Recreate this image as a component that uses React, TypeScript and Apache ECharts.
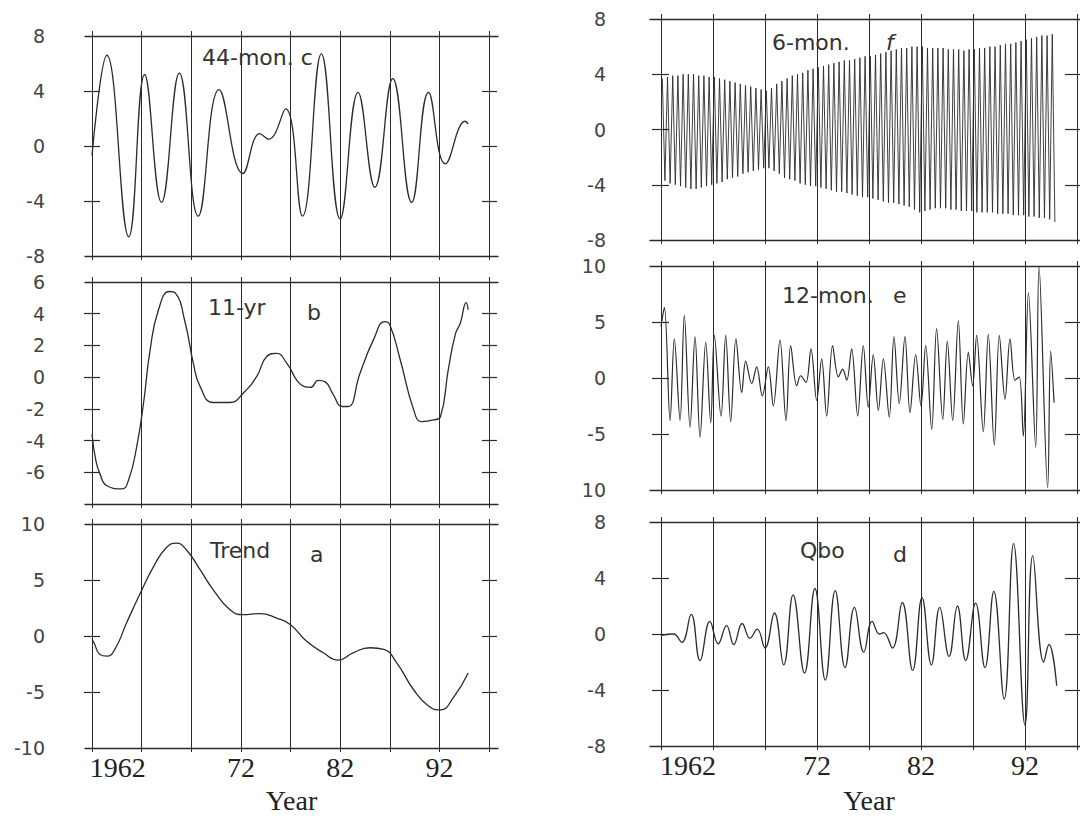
import React, { useEffect, useRef } from 'react';
import * as echarts from 'echarts';

// ---- axes ----
const gridYears = [1957, 1962, 1967, 1972, 1977, 1982, 1987, 1992, 1997];
const xLabelPositions = [1959.6, 1972, 1982, 1992];
const xLabelTexts = ['1962', '72', '82', '92'];

// ---- a: Trend ----
const trendPts: [number, number][] = [
  [1957.0, -0.3], [1957.2, -0.6], [1957.8, -1.65], [1958.5, -1.8], [1959.3, -1.2], [1960.5, 1.2],
  [1961.8, 3.7], [1963.2, 6.2], [1964.5, 7.9], [1965.5, 8.3], [1966.5, 7.7], [1967.9, 5.9],
  [1969.2, 4.15], [1970.9, 2.35], [1972.25, 1.9], [1973.9, 2.0], [1975.6, 1.6], [1977.0, 1.0],
  [1978.6, -0.45], [1980.3, -1.5], [1981.8, -2.15], [1983.3, -1.5], [1985.0, -1.05], [1986.4, -1.2],
  [1987.7, -2.4], [1989.4, -4.8], [1990.9, -6.25], [1992.1, -6.6], [1993.4, -5.5], [1994.9, -3.3],
];

// ---- b: 11-yr ----
const elevenYrPts: [number, number][] = [
  [1957.0, -3.6], [1957.4, -5.3], [1957.8, -6.1], [1958.5, -6.85], [1960.0, -7.05], [1960.7, -6.45],
  [1961.5, -4.4], [1962.2, -1.6], [1962.85, 1.7], [1963.7, 4.25], [1964.8, 5.4], [1965.4, 5.3],
  [1966.4, 3.4], [1967.2, 0.9], [1967.9, -0.6], [1969.2, -1.6], [1970.9, -1.6], [1972.25, -1.0],
  [1973.6, 0.05], [1974.6, 1.3], [1975.6, 1.5], [1976.6, 0.9], [1978.1, -0.5], [1979.0, -0.65],
  [1979.8, -0.2], [1980.5, -0.3], [1981.3, -1.1], [1982.2, -1.85], [1982.8, -1.85], [1984.0, 0.25],
  [1985.35, 2.35], [1986.5, 3.5], [1987.0, 3.3], [1988.05, 1.1], [1989.4, -2.05], [1990.2, -2.8],
  [1991.4, -2.7], [1992.1, -2.5], [1992.9, 0.5], [1993.6, 2.7], [1994.1, 3.4], [1994.7, 4.7], [1994.9, 4.25],
];

// ---- c: 44-mon ----
const fortyFourMonPts: [number, number][] = [
  [1957.0, -0.7], [1958.5, 6.6], [1960.7, -6.6], [1962.3, 5.2], [1964.0, -4.1], [1965.8, 5.3],
  [1967.7, -5.1], [1969.8, 4.1], [1972.2, -2.0], [1973.9, 0.9], [1974.8, 0.5], [1976.5, 2.7],
  [1978.2, -5.1], [1980.1, 6.7], [1982.0, -5.3], [1983.8, 3.9], [1985.5, -3.0], [1987.3, 4.9],
  [1989.2, -4.1], [1990.9, 3.9], [1992.6, -1.3], [1994.6, 1.8], [1994.9, 1.6],
];

// ---- d: Qbo ----
const qboPts: [number, number][] = [
  [1957.0, -0.1], [1958.2, 0.0], [1959.0, -0.6], [1959.9, 1.4], [1960.75, -1.9], [1961.7, 0.9],
  [1962.5, -0.7], [1963.3, 0.6], [1964.0, -0.75], [1964.8, 0.75], [1965.55, -0.3], [1966.25, 0.35],
  [1967.0, -1.0], [1967.9, 1.5], [1968.8, -2.2], [1969.7, 2.8], [1970.8, -2.8], [1971.8, 3.25],
  [1972.8, -3.3], [1973.75, 3.1], [1974.7, -2.4], [1975.6, 1.9], [1976.5, -1.3], [1977.3, 0.9],
  [1978.0, 0.0], [1978.4, 0.1], [1979.25, -1.0], [1980.2, 2.25], [1981.2, -2.6], [1982.1, 2.6],
  [1983.0, -2.2], [1983.8, 1.9], [1984.7, -1.6], [1985.5, 2.0], [1986.3, -1.9], [1987.25, 2.2],
  [1988.15, -2.4], [1989.0, 3.05], [1990.0, -4.65], [1990.9, 6.45], [1992.0, -6.5], [1992.75, 5.6],
  [1993.8, -2.0], [1994.3, -0.75], [1995.05, -3.7],
];

// ---- e: 12-mon ----
const twelveMonPts: [number, number][] = [
  [1957.0, 4.6], [1957.32, 6.3], [1957.87, -3.8], [1958.28, 3.5], [1958.83, -3.8], [1959.24, 5.6],
  [1959.79, -4.4], [1960.27, 3.7], [1960.75, -5.3], [1961.3, 3.2], [1961.78, -4.0], [1962.13, 3.8],
  [1962.77, -3.4], [1963.22, 3.8], [1963.7, -3.9], [1964.2, 3.5], [1964.76, -1.3], [1965.14, 1.5],
  [1965.72, -0.5], [1966.2, 1.0], [1966.74, -1.6], [1967.32, 1.0], [1967.8, -2.5], [1968.44, 3.4],
  [1969.02, -3.8], [1969.47, 2.9], [1970.05, -0.7], [1970.43, 0.2], [1970.94, -0.4], [1971.42, 2.6],
  [1971.97, -2.0], [1972.45, 1.7], [1972.93, -3.4], [1973.5, 2.9], [1974.05, 0.1], [1974.47, 0.8],
  [1974.86, -0.2], [1975.33, 2.6], [1975.91, -3.4], [1976.45, 2.9], [1976.93, -2.6], [1977.41, 2.1],
  [1977.9, -2.9], [1978.38, 1.7], [1978.95, -3.5], [1979.4, 3.7], [1979.91, -2.3], [1980.46, 3.7],
  [1980.94, -3.1], [1981.49, 2.1], [1982.0, -2.5], [1982.45, 2.9], [1983.03, -4.6], [1983.5, 4.4],
  [1984.09, -3.7], [1984.53, 3.3], [1985.05, -3.8], [1985.59, 5.1], [1986.07, -4.1], [1986.55, 2.3],
  [1986.97, -0.7], [1987.35, 3.8], [1987.99, -4.8], [1988.47, 3.9], [1989.05, -6.0], [1989.53, 3.8],
  [1990.08, -1.9], [1990.56, 3.5], [1991.04, -0.2], [1991.45, 0.1], [1991.84, -5.2], [1992.33, 7.6],
  [1993.03, -6.2], [1993.35, 10.0], [1994.18, -9.8], [1994.47, 2.4], [1994.8, -2.2],
];

// ---- f: 6-mon (one crest and one trough per half year, 1957.0 - 1994.5) ----
const sixMonStart = 1957;
const sixMonPeaks = [
  3.7, 3.8, 3.9, 3.9, 4.0, 4.0,
  4.0, 3.9, 3.9, 3.8, 3.8, 3.7,
  3.6, 3.5, 3.4, 3.3, 3.2, 3.1,
  3.0, 2.9, 2.8, 3.0, 3.3, 3.5,
  3.7, 3.9, 4.0, 4.1, 4.3, 4.4,
  4.5, 4.6, 4.7, 4.8, 4.9, 5.0,
  5.0, 5.1, 5.2, 5.3, 5.3, 5.4,
  5.5, 5.6, 5.7, 5.8, 5.9, 5.9,
  6.0, 6.0, 6.0, 5.9, 5.9, 5.9,
  5.9, 5.8, 5.8, 5.8, 5.7, 5.8,
  5.8, 5.9, 5.9, 6.0, 6.0, 6.1,
  6.2, 6.2, 6.3, 6.4, 6.5, 6.6,
  6.7, 6.8, 6.8, 6.9,
];
const sixMonTroughs = [
  -3.7, -3.9, -4.0, -4.1, -4.2, -4.3,
  -4.3, -4.2, -4.1, -4.0, -3.9, -3.8,
  -3.6, -3.5, -3.4, -3.2, -3.1, -3.0,
  -2.9, -2.8, -2.8, -3.0, -3.2, -3.5,
  -3.6, -3.7, -3.9, -4.0, -4.1, -4.1,
  -4.2, -4.3, -4.4, -4.5, -4.5, -4.6,
  -4.7, -4.8, -4.9, -4.9, -5.0, -5.1,
  -5.2, -5.3, -5.3, -5.4, -5.5, -5.6,
  -5.8, -6.0, -5.9, -5.8, -5.7, -5.7,
  -5.7, -5.8, -5.8, -5.9, -5.9, -5.9,
  -6.0, -6.0, -6.0, -6.0, -6.1, -6.1,
  -6.1, -6.2, -6.2, -6.2, -6.3, -6.3,
  -6.4, -6.4, -6.5, -6.7,
];

// ---- y ticks / labels ----
const yTicksC = [4, 0, -4];
const yLabelsC = [8, 4, 0, -4, -8];
const yTicksB = [4, 2, 0, -2, -4, -6];
const yLabelsB = [6, 4, 2, 0, -2, -4, -6];
const yTicksA = [5, 0, -5];
const yLabelsA = [10, 5, 0, -5, -10];
const yTicksF = [4, 0, -4];
const yLabelsF = [8, 4, 0, -4, -8];
const yTicksE = [5, 0, -5];
const yLabelsE = [10, 5, 0, -5, -10];
const yLabelTextsE = ['10', '5', '0', '-5', '10'];
const yTicksD = [4, 0, -4];
const yLabelsD = [8, 4, 0, -4, -8];

const INK = '#2b2b2b';

function sixMonSeries(): [number, number][] {
  const out: [number, number][] = [];
  for (let k = 0; k < sixMonPeaks.length; k++) {
    out.push([sixMonStart + 0.5 * k + 0.125, sixMonPeaks[k]]);
    out.push([sixMonStart + 0.5 * k + 0.375, sixMonTroughs[k]]);
  }
  return out;
}

type PanelCfg = {
  left: number; top: number; width: number; height: number;
  xMin: number; xMax: number;
  yMin: number; yMax: number;
  yTicks: number[]; yLabels: number[]; yLabelTexts?: string[];
  leftAxisInset: number; leftTickLen: number; labelMargin: number;
  rightAxisInset: number; rightTickLen: number;
  data: [number, number][]; smooth: number | boolean; lineWidth: number;
  showX: boolean; nameGap: number;
};

function App() {
  const ref = useRef<HTMLDivElement>(null);
  useEffect(() => {
    if (!ref.current) return;
    const chart = echarts.init(ref.current, undefined, { renderer: 'svg' });

    const L = { left: 85, width: 413, xMin: 1956.295, xMax: 1997.9, leftAxisInset: 15, leftTickLen: 16, labelMargin: 55, rightAxisInset: 16, rightTickLen: 15 };
    const R = { left: 650, width: 438, xMin: 1955.94, xMax: 1998.06, leftAxisInset: 19, leftTickLen: 17, labelMargin: 63, rightAxisInset: 23, rightTickLen: 16 };

    const panels: PanelCfg[] = [
      { ...L, top: 36, height: 220, yMin: -8, yMax: 8, yTicks: yTicksC, yLabels: yLabelsC, data: fortyFourMonPts, smooth: 0.45, lineWidth: 1.3, showX: false, nameGap: 0 },
      { ...L, top: 282, height: 222, yMin: -8, yMax: 6, yTicks: yTicksB, yLabels: yLabelsB, data: elevenYrPts, smooth: 0.5, lineWidth: 1.3, showX: false, nameGap: 0 },
      { ...L, top: 524, height: 224, yMin: -10, yMax: 10, yTicks: yTicksA, yLabels: yLabelsA, data: trendPts, smooth: 0.5, lineWidth: 1.3, showX: true, nameGap: 38 },
      { ...R, top: 19, height: 221, yMin: -8, yMax: 8, yTicks: yTicksF, yLabels: yLabelsF, data: sixMonSeries(), smooth: false, lineWidth: 0.9, showX: false, nameGap: 0 },
      { ...R, top: 266, height: 224, yMin: -10, yMax: 10, yTicks: yTicksE, yLabels: yLabelsE, yLabelTexts: yLabelTextsE, data: twelveMonPts, smooth: 0.35, lineWidth: 1.2, showX: false, nameGap: 0 },
      { ...R, top: 522, height: 224, yMin: -8, yMax: 8, yTicks: yTicksD, yLabels: yLabelsD, data: qboPts, smooth: 0.45, lineWidth: 1.3, showX: true, nameGap: 40 },
    ];

    const grids: any[] = [];
    const xAxes: any[] = [];
    const yAxes: any[] = [];
    const series: any[] = [];

    panels.forEach((p, i) => {
      grids.push({ left: p.left, top: p.top, width: p.width, height: p.height, containLabel: false, outerBoundsMode: 'none', show: false });
      const common = {
        type: 'value', gridIndex: i, min: p.xMin, max: p.xMax,
        axisLine: { show: true, onZero: false, lineStyle: { color: INK, width: 1.3 } },
        axisPointer: { show: false },
      };
      xAxes.push({
        ...common, position: 'bottom',
        axisTick: { show: true, customValues: gridYears, length: 4, lineStyle: { color: INK, width: 1 } },
        splitLine: { show: true, lineStyle: { color: INK, width: 1 } },
        axisLabel: p.showX ? {
          show: true, customValues: xLabelPositions, margin: 5,
          fontFamily: 'Liberation Serif', fontSize: 28, color: '#222',
          formatter: (v: number) => {
            const idx = xLabelPositions.findIndex((q) => Math.abs(q - v) < 0.01);
            return idx >= 0 ? xLabelTexts[idx] : '';
          },
        } : { show: false },
        name: p.showX ? 'Year' : '', nameLocation: 'middle', nameGap: p.nameGap,
        nameTextStyle: { fontFamily: 'Liberation Serif', fontSize: 28, color: '#222' },
      });
      xAxes.push({
        ...common, position: 'top',
        axisTick: { show: true, customValues: gridYears, length: 5, lineStyle: { color: INK, width: 1 } },
        splitLine: { show: false }, axisLabel: { show: false },
      });
      const labelTexts = p.yLabelTexts;
      yAxes.push({
        type: 'value', gridIndex: i, position: 'left', offset: -p.leftAxisInset,
        min: p.yMin, max: p.yMax,
        axisLine: { show: false, onZero: false },
        axisTick: { show: true, customValues: p.yTicks, length: p.leftTickLen, lineStyle: { color: INK, width: 1.2 } },
        splitLine: { show: false },
        axisLabel: {
          show: true, customValues: p.yLabels, margin: p.labelMargin,
          fontFamily: 'DejaVu Sans', fontSize: 19, color: '#444',
          formatter: (v: number) => {
            if (labelTexts) {
              const idx = p.yLabels.findIndex((q) => Math.abs(q - v) < 1e-6);
              if (idx >= 0) return labelTexts[idx];
            }
            return String(v);
          },
        },
      });
      yAxes.push({
        type: 'value', gridIndex: i, position: 'right', offset: -p.rightAxisInset,
        min: p.yMin, max: p.yMax,
        axisLine: { show: false, onZero: false },
        axisTick: { show: true, customValues: p.yTicks, length: p.rightTickLen, lineStyle: { color: INK, width: 1.2 } },
        splitLine: { show: false },
        axisLabel: { show: false },
      });
      series.push({
        type: 'line', xAxisIndex: 2 * i, yAxisIndex: 2 * i,
        data: p.data, showSymbol: false, symbol: 'none', smooth: p.smooth,
        lineStyle: { color: INK, width: p.lineWidth }, silent: true, clip: true,
      });
    });

    const titleFont = { fontFamily: 'DejaVu Sans', fontSize: 22, fill: '#333' };
    const titles = [
      { text: '44-mon. c', x: 202, y: 46 },
      { text: '11-yr', x: 208, y: 296 },
      { text: 'b', x: 307, y: 301 },
      { text: 'Trend', x: 210, y: 539 },
      { text: 'a', x: 310, y: 543 },
      { text: '6-mon.', x: 772, y: 31 },
      { text: 'f', x: 886, y: 31, italic: true },
      { text: '12-mon.', x: 782, y: 284 },
      { text: 'e', x: 893, y: 284 },
      { text: 'Qbo', x: 800, y: 539 },
      { text: 'd', x: 893, y: 543 },
    ];

    chart.setOption({
      animation: false,
      backgroundColor: '#ffffff',
      grid: grids,
      xAxis: xAxes,
      yAxis: yAxes,
      series,
      graphic: titles.map((t) => ({
        type: 'text', x: t.x, y: t.y, silent: true, z: 10,
        style: { ...titleFont, text: t.text, fontStyle: t.italic ? 'italic' : 'normal', verticalAlign: 'top', align: 'left' },
      })),
    });
    return () => chart.dispose();
  }, []);
  return <div ref={ref} style={{ position: 'absolute', left: 0, top: 0, width: 1080, height: 818, background: '#fff' }} />;
}

export default App;
